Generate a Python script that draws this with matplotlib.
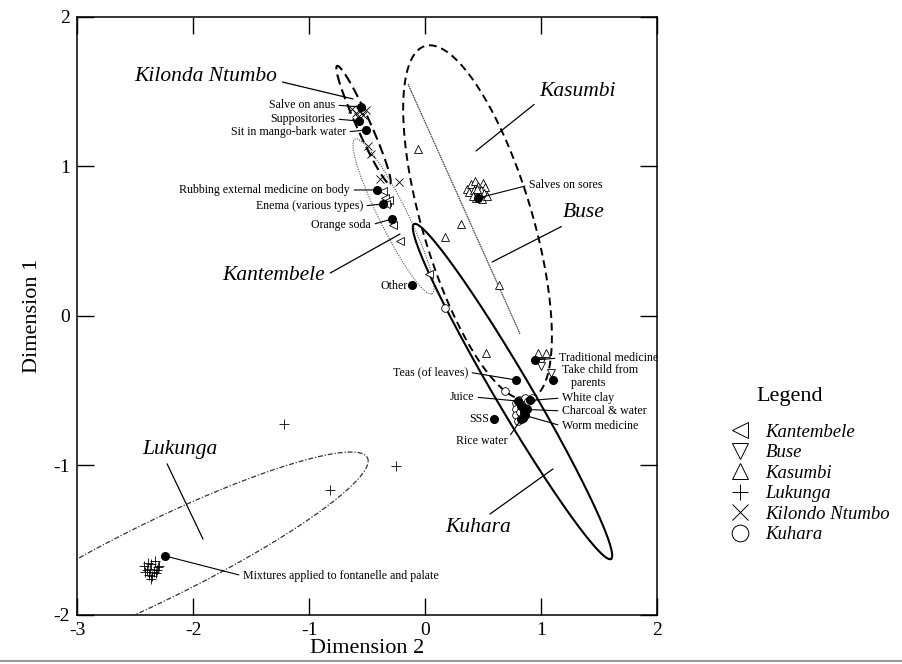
import numpy as np
import matplotlib
matplotlib.use("Agg")
import matplotlib.pyplot as plt
from matplotlib.lines import Line2D

plt.rcParams['font.family'] = ['Liberation Serif', 'DejaVu Serif']
plt.rcParams['axes.unicode_minus'] = False

# ---- group scores (Dimension 2 = x, Dimension 1 = y) ----
kantembele_x = [-0.362, -0.345, -0.328, -0.310, -0.336, -0.276, -0.216, 0.034]
kantembele_y = [0.836, 0.789, 0.763, 0.776, 0.749, 0.609, 0.502, 0.281]

buse_x = [1.000, 1.000, 1.086]
buse_y = [-0.308, -0.334, -0.381]

kasumbi_x = [-0.060, 0.310, 0.172, 0.638, 0.526, 0.974, 1.043,
             0.36, 0.40, 0.43, 0.46, 0.50, 0.52, 0.38, 0.42, 0.45,
             0.48, 0.51, 0.44, 0.47, 0.41, 0.49, 0.53, 0.45]
kasumbi_y = [1.117, 0.615, 0.528, 0.207, -0.247, -0.247, -0.247,
             0.85, 0.88, 0.90, 0.87, 0.89, 0.86, 0.83, 0.84, 0.82,
             0.84, 0.82, 0.79, 0.80, 0.80, 0.78, 0.80, 0.85]

lukunga_x = [-1.216, -0.250, -0.819,
             -2.42, -2.39, -2.36, -2.33, -2.30, -2.40, -2.37, -2.34,
             -2.31, -2.38, -2.35, -2.32, -2.41, -2.36, -2.29]
lukunga_y = [-0.722, -1.003, -1.164,
             -1.67, -1.65, -1.66, -1.64, -1.68, -1.70, -1.69, -1.71,
             -1.70, -1.73, -1.74, -1.72, -1.71, -1.76, -1.67]

kilondo_x = [-0.629, -0.595, -0.560, -0.534, -0.509, -0.578, -0.491,
             -0.466, -0.388, -0.224]
kilondo_y = [1.385, 1.358, 1.371, 1.344, 1.378, 1.331, 1.137,
             1.084, 0.916, 0.896]

kuhara_x = [0.172, 0.690, 0.78, 0.78, 0.78, 0.81, 0.84, 0.86, 0.89,
            0.92, 0.82, 0.85, 0.80]
kuhara_y = [0.054, -0.502, -0.58, -0.62, -0.66, -0.56, -0.60, -0.55,
            -0.57, -0.55, -0.64, -0.66, -0.70]

# ---- treatment scores (filled dots) ----
treat_names = ["Salve on anus", "Suppositories", "Sit in mango-bark water",
               "Rubbing external medicine on body", "Enema (various types)",
               "Orange soda", "Other", "Salves on sores",
               "Traditional medicine", "Take child from\n   parents",
               "Teas (of leaves)", "Juice", "White clay",
               "Charcoal & water", "Worm medicine", "SSS", "Rice water",
               "Mixtures applied to fontanelle and palate"]
treat_x = [-0.552, -0.569, -0.509, -0.414, -0.362, -0.284, -0.112, 0.457,
           0.948, 1.103, 0.784, 0.802, 0.905, 0.875, 0.862, 0.595, 0.830,
           -2.241]
treat_y = [1.398, 1.304, 1.244, 0.843, 0.749, 0.649, 0.207, 0.789,
           -0.294, -0.428, -0.428, -0.569, -0.565, -0.625, -0.665, -0.689,
           -0.690, -1.605]
# extra unlabelled treatments in the central cluster
extra_x = [0.830, 0.850, 0.845]
extra_y = [-0.600, -0.640, -0.680]

# label anchor positions (text end / start) and alignment
treat_text_x = [-0.776, -0.776, -0.681, -0.647, -0.534, -0.466, -0.145, 0.897,
                1.155, 1.181, 0.371, 0.422, 1.181, 1.181, 1.181, 0.552, 0.707,
                -1.569]
treat_text_y = [1.411, 1.318, 1.231, 0.843, 0.736, 0.609, 0.201, 0.876,
                -0.281, -0.405, -0.375, -0.542, -0.548, -0.635, -0.736, -0.689,
                -0.836, -1.739]
treat_ha = ['right'] * 7 + ['left', 'left', 'left', 'right', 'right',
                            'left', 'left', 'left', 'right', 'right', 'left']

# ---- group ellipses: centre, semi-axis vectors u and v ----
ell_cx = [-0.530, -0.272, 0.4526, 0.336, 0.754, -2.31]
ell_cy = [1.278, 0.666, 0.625, 0.716, -0.505, -1.64]
ell_ux = [0.228, 0.332, 0.4526, 0.483, 0.849, 1.82]
ell_uy = [-0.395, -0.518, -1.181, -0.836, -1.120, 0.67]
ell_vx = [0.055, 0.108, 0.454, 0.002, 0.134, 0.0]
ell_vy = [0.019, 0.042, 0.105, 0.001, 0.061, 0.29]
ell_styles = [dict(ls=(0, (5, 2.5)), lw=1.5, color='black'),
              dict(ls=(0, (1, 1.2)), lw=0.8, color='#555555'),
              dict(ls=(0, (4, 2.5)), lw=1.4, color='black'),
              dict(ls=(0, (1, 1)), lw=0.7, color='#555555'),
              dict(ls='-', lw=1.5, color='black'),
              dict(ls=(0, (4, 1.5, 1, 1.5)), lw=0.9, color='#333333')]

# ---- group name labels ----
group_names = ["Kilonda Ntumbo", "Kasumbi", "Buse", "Kantembele",
               "Lukunga", "Kuhara"]
group_text_x = [-1.276, 0.983, 1.190, -0.862, -2.440, 0.172]
group_text_y = [1.599, 1.505, 0.689, 0.268, -0.890, -1.418]
group_ptr_x = [-0.621, 0.440, 0.578, -0.216, -1.914, 1.103]
group_ptr_y = [1.452, 1.104, 0.361, 0.548, -1.492, -1.023]
group_ha = ['right', 'left', 'left', 'right', 'left', 'left']
group_relpos = [(1, 0.3), (0, 0.0), (0.15, 0.0), (1, 0.5), (0.3, 0.0), (0.59, 1.0)]

legend_names = ["Kantembele", "Buse", "Kasumbi", "Lukunga",
                "Kilondo Ntumbo", "Kuhara"]
legend_markers = ['<', 'v', '^', '+', 'x', 'o']

fig = plt.figure(figsize=(9.03, 6.64), dpi=100)
ax = fig.add_axes([0.0853, 0.0738, 0.6423, 0.9006])

# ellipses
t = np.linspace(0, 2 * np.pi, 400)
for cx, cy, ux, uy, vx, vy, st in zip(ell_cx, ell_cy, ell_ux, ell_uy,
                                       ell_vx, ell_vy, ell_styles):
    ax.plot(cx + ux * np.cos(t) + vx * np.sin(t),
            cy + uy * np.cos(t) + vy * np.sin(t), zorder=2, **st)

open_kw = dict(ls='none', mfc='white', mec='black', mew=0.6, zorder=3)
ax.plot(kasumbi_x, kasumbi_y, marker='^', ms=5.5, **open_kw)
ax.plot(kantembele_x, kantembele_y, marker='<', ms=5.5, **open_kw)
ax.plot(buse_x, buse_y, marker='v', ms=5.5, **open_kw)
ax.plot(kuhara_x, kuhara_y, marker='o', ms=5.5, **open_kw)
ax.plot(kilondo_x, kilondo_y, marker='x', ms=5.5, ls='none',
        color='black', mew=0.6, zorder=3)
ax.plot(lukunga_x, lukunga_y, marker='+', ms=7, ls='none',
        color='black', mew=0.6, zorder=3)
ax.plot(treat_x + extra_x, treat_y + extra_y, marker='o', ms=5.5,
        ls='none', color='black', zorder=4)

# treatment labels with leader lines
for name, x, y, tx, ty, ha in zip(treat_names, treat_x, treat_y,
                                  treat_text_x, treat_text_y, treat_ha):
    rel = (1, 0.5) if ha == 'right' else (0, 0.5)
    if name.startswith("Take child"):
        rel = (0.03, 0.25)
    if name == "Rice water":
        rel = (1, 0.6)
    ax.annotate(name, xy=(x, y), xytext=(tx, ty), ha=ha, va='center',
                fontsize=8.6, zorder=5,
                arrowprops=dict(arrowstyle='-', lw=0.8, color='black',
                                shrinkA=1, shrinkB=0, relpos=rel))

# group labels
for name, tx, ty, px, py, ha, rel in zip(group_names, group_text_x,
                                         group_text_y, group_ptr_x,
                                         group_ptr_y, group_ha, group_relpos):
    ax.annotate(name, xy=(px, py), xytext=(tx, ty), ha=ha, va='center',
                fontsize=15.5, style='italic', zorder=5,
                arrowprops=dict(arrowstyle='-', lw=0.9, color='black',
                                shrinkA=2, shrinkB=0, relpos=rel))

ax.set_xlim(-3, 2)
ax.set_ylim(-2, 2)
ax.set_xticks([-3, -2, -1, 0, 1, 2])
ax.set_yticks([-2, -1, 0, 1, 2])
ax.tick_params(direction='in', length=12, width=1.0, top=True, right=True,
               labelsize=14, pad=5)
for s in ax.spines.values():
    s.set_linewidth(1.1)
ax.set_xlabel("Dimension 2", fontsize=16, labelpad=0)
ax.set_ylabel("Dimension 1", fontsize=16, labelpad=8)

# legend
fig.text(790 / 903, 1 - 396 / 664, "Legend", ha='center', va='center',
         fontsize=16)
handles = [Line2D([], [], marker=m, ls='none', mfc='white', mec='black',
                  color='black', mew=0.7, ms=12) for m in legend_markers]
leg = fig.legend(handles, legend_names, loc='upper left',
                 bbox_to_anchor=(0.797, 0.376), frameon=False,
                 prop=dict(style='italic', size=13.5), handletextpad=0.75,
                 labelspacing=0.18, handlelength=1.2, borderpad=0)

# page rule at the foot of the figure
fig.add_artist(Line2D([0, 1], [0.005, 0.005], transform=fig.transFigure,
                      color='#9a9a9a', lw=1.5))

fig.savefig("out.png", dpi=100)
